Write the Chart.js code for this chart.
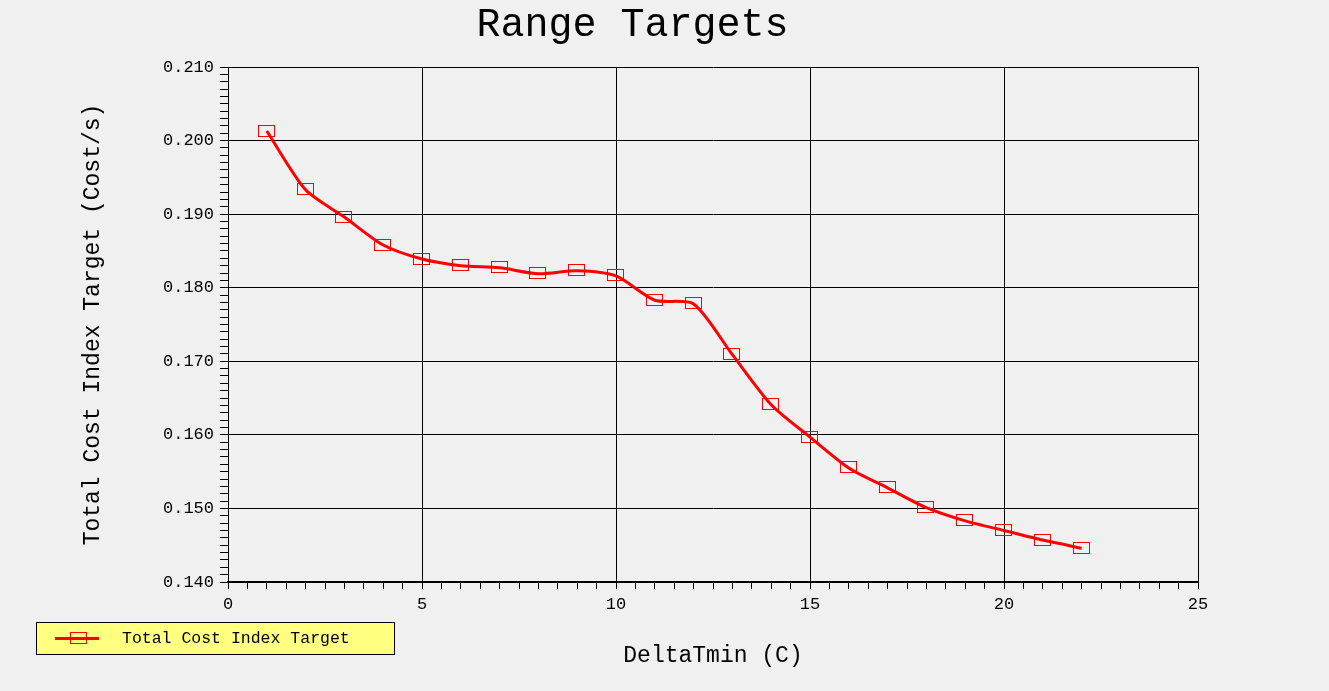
<!DOCTYPE html>
<html>
<head>
<meta charset="utf-8">
<script src="https://cdn.jsdelivr.net/npm/chart.js@4"></script>
<style>
html,body{margin:0;padding:0;background:#F0F0F0;}
#wrap{width:1329px;height:691px;position:relative;}
</style>
</head>
<body>
<div id="wrap"><canvas id="c" width="1329" height="691"></canvas></div>
<script>
const chartTitle = 'Range Targets';
const xTitle = 'DeltaTmin (C)';
const yTitle = 'Total Cost Index Target (Cost/s)';
const seriesLabel = 'Total Cost Index Target';
const xValues = [1,2,3,4,5,6,7,8,9,10,11,12,13,14,15,16,17,18,19,20,21,22];
const yValues = [0.2013,0.1933,0.1896,0.1858,0.1839,0.1830,0.1827,0.1819,0.1823,0.1816,0.1783,0.1778,0.1709,0.1641,0.1597,0.1555,0.1528,0.1501,0.1483,0.1470,0.1457,0.1446];
const xMin = 0, xMax = 25, xMajor = 5, xMinor = 0.5;
const yMin = 0.140, yMax = 0.210, yMajor = 0.010, yMinor = 0.001;

const FONT = "'Liberation Mono', 'DejaVu Sans Mono', monospace";

// marker: open red rectangle
const marker = document.createElement('canvas');
marker.width = 18; marker.height = 13;
(function(){
  const m = marker.getContext('2d');
  m.strokeStyle = '#FF0000';
  m.lineWidth = 1;
  m.strokeRect(0.5, 0.5, 16, 11);
})();

function isMajor(v, major){
  const r = v / major;
  return Math.abs(r - Math.round(r)) < 1e-6;
}

const crispPlugin = {
  id: 'crisp',
  beforeDatasetsDraw(chart){ chart.ctx.imageSmoothingEnabled = false; },
  afterDatasetsDraw(chart){ chart.ctx.imageSmoothingEnabled = true; }
};

const legendPlugin = {
  id: 'boxLegend',
  afterDraw(chart){
    const ctx = chart.ctx;
    const ds = chart.data.datasets[0];
    ctx.save();
    ctx.fillStyle = '#FFFF80';
    ctx.fillRect(36.5, 622.5, 358, 32);
    ctx.strokeStyle = '#000';
    ctx.lineWidth = 1;
    ctx.strokeRect(36.5, 622.5, 358, 32);
    ctx.strokeStyle = ds.borderColor;
    ctx.lineWidth = 3;
    ctx.beginPath();
    ctx.moveTo(55, 638.5);
    ctx.lineTo(99, 638.5);
    ctx.stroke();
    ctx.imageSmoothingEnabled = false;
    ctx.drawImage(marker, 70, 632);
    ctx.fillStyle = '#000';
    ctx.font = '16.5px ' + FONT;
    ctx.textBaseline = 'middle';
    ctx.textAlign = 'left';
    ctx.fillText(ds.label, 122, 639);
    ctx.restore();
  }
};

new Chart(document.getElementById('c'), {
  type: 'line',
  data: {
    datasets: [{
      label: seriesLabel,
      data: xValues.map((x, i) => ({x: x, y: yValues[i]})),
      borderColor: '#FF0000',
      borderWidth: 3,
      tension: 0.25,
      pointStyle: marker,
      pointRadius: 6,
      fill: false
    }]
  },
  options: {
    responsive: false,
    animation: false,
    devicePixelRatio: 1,
    layout: {padding: {left: 67, right: 131, top: 0, bottom: 0}},
    plugins: {
      legend: {display: false},
      tooltip: {enabled: false},
      title: {
        display: true,
        text: chartTitle,
        color: '#000',
        font: {family: FONT, size: 40, weight: 'normal'},
        padding: {top: 1, bottom: 18}
      }
    },
    scales: {
      x: {
        type: 'linear',
        min: xMin, max: xMax,
        afterFit(s){ s.height = 109; },
        border: {display: true, color: '#000', width: 2},
        grid: {
          color: c => (c.tick && isMajor(c.tick.value, xMajor)) ? '#000' : 'rgba(0,0,0,0)',
          tickColor: '#000',
          lineWidth: 1,
          tickLength: 7,
          drawTicks: true
        },
        ticks: {
          stepSize: xMinor,
          autoSkip: false,
          maxRotation: 0,
          padding: 5,
          color: '#000',
          font: {family: FONT, size: 17},
          callback: v => isMajor(v, xMajor) ? String(Math.round(v)) : ''
        },
        title: {
          display: true,
          text: xTitle,
          color: '#000',
          font: {family: FONT, size: 23},
          padding: {top: 0, bottom: 21}
        }
      },
      y: {
        type: 'linear',
        min: yMin, max: yMax,
        afterFit(s){ s.width = 161; },
        border: {display: true, color: '#000', width: 1},
        grid: {
          color: c => (c.tick && isMajor(c.tick.value, yMajor)) ? '#000' : 'rgba(0,0,0,0)',
          tickColor: '#000',
          lineWidth: 1,
          tickLength: 8,
          drawTicks: true
        },
        ticks: {
          stepSize: yMinor,
          autoSkip: false,
          padding: 6,
          color: '#000',
          font: {family: FONT, size: 17},
          callback: v => isMajor(v, yMajor) ? v.toFixed(3) : ''
        },
        title: {
          display: true,
          text: yTitle,
          color: '#000',
          font: {family: FONT, size: 23},
          padding: {top: 12, bottom: 0}
        }
      }
    }
  },
  plugins: [crispPlugin, legendPlugin]
});
</script>
</body>
</html>
